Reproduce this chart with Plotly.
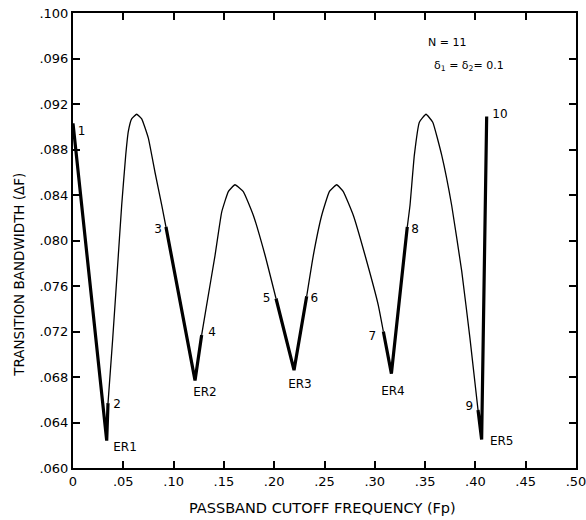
import plotly.graph_objects as go

# Labeled points 1..10 (ends of the thick segments)
pt_labels = ["1", "2", "3", "4", "5", "6", "7", "8", "9", "10"]
pt_fp = [0.0000, 0.0348, 0.0924, 0.1279, 0.2018, 0.2323, 0.3085, 0.3323, 0.4026, 0.4112]
pt_df = [0.0903, 0.0657, 0.0812, 0.0717, 0.0749, 0.0751, 0.0720, 0.0812, 0.0651, 0.0909]

# Extremal-ripple minima ER1..ER5
er_labels = ["ER1", "ER2", "ER3", "ER4", "ER5"]
er_fp = [0.0335, 0.1213, 0.2197, 0.3165, 0.4062]
er_df = [0.0624, 0.0677, 0.0686, 0.0683, 0.0625]

# Thin arcs between labeled points (interior points)
arc1_fp = [0.0395, 0.0440, 0.0484, 0.0524, 0.0550, 0.0583, 0.0633, 0.0683, 0.0749, 0.0815, 0.0882]
arc1_df = [0.0714, 0.0773, 0.0831, 0.0875, 0.0896, 0.0907, 0.0911, 0.0907, 0.0890, 0.0860, 0.0831]
arc2_fp = [0.1328, 0.1412, 0.1478, 0.1544, 0.1610, 0.1693, 0.1793, 0.1909]
arc2_df = [0.0743, 0.0787, 0.0825, 0.0843, 0.0849, 0.0843, 0.0822, 0.0787]
arc3_fp = [0.2389, 0.2472, 0.2548, 0.2621, 0.2687, 0.2787, 0.2903, 0.3035]
arc3_df = [0.0787, 0.0822, 0.0843, 0.0849, 0.0843, 0.0822, 0.0787, 0.0743]
arc4_fp = [0.3350, 0.3393, 0.3443, 0.3509, 0.3576, 0.3665, 0.3764, 0.3864, 0.3946]
arc4_df = [0.0831, 0.0875, 0.0904, 0.0911, 0.0904, 0.0875, 0.0831, 0.0773, 0.0714]
arcs = [(arc1_fp, arc1_df), (arc2_fp, arc2_df), (arc3_fp, arc3_df), (arc4_fp, arc4_df)]

x_ticks = [0, 0.05, 0.10, 0.15, 0.20, 0.25, 0.30, 0.35, 0.40, 0.45, 0.50]
x_ticktext = ["0", ".05", ".10", ".15", ".20", ".25", ".30", ".35", ".40", ".45", ".50"]
y_ticks = [0.060, 0.064, 0.068, 0.072, 0.076, 0.080, 0.084, 0.088, 0.092, 0.096, 0.100]
y_ticktext = [".060", ".064", ".068", ".072", ".076", ".080", ".084", ".088", ".092", ".096", ".100"]

# label positions (data coords)
pt_lab_fp = [0.0085, 0.0437, 0.0845, 0.1382, 0.1925, 0.2399, 0.2975, 0.3400, 0.3939, 0.4244]
pt_lab_df = [0.0895, 0.0655, 0.0809, 0.0719, 0.0749, 0.0749, 0.0715, 0.0809, 0.0654, 0.0910]
er_lab_fp = [0.0517, 0.1312, 0.2256, 0.3180, 0.4261]
er_lab_df = [0.0618, 0.0666, 0.0673, 0.0667, 0.0623]

FONT = "DejaVu Sans"
fig = go.Figure()

# thin arcs: from point 2k to point 2k+1
for k, (afp, adf) in enumerate(arcs):
    i0 = 2 * k + 1
    xs = [pt_fp[i0]] + afp + [pt_fp[i0 + 1]]
    ys = [pt_df[i0]] + adf + [pt_df[i0 + 1]]
    fig.add_trace(go.Scatter(x=xs, y=ys, mode="lines",
                             line=dict(color="black", width=1.3, shape="spline", smoothing=0.35),
                             hoverinfo="skip", showlegend=False))

# thick segments: point 2k-1 -> ER k -> point 2k
for k in range(5):
    xs = [pt_fp[2 * k], er_fp[k], pt_fp[2 * k + 1]]
    ys = [pt_df[2 * k], er_df[k], pt_df[2 * k + 1]]
    fig.add_trace(go.Scatter(x=xs, y=ys, mode="lines",
                             line=dict(color="black", width=3.2),
                             hoverinfo="skip", showlegend=False))

fig.add_trace(go.Scatter(x=pt_lab_fp, y=pt_lab_df, mode="text", text=pt_labels,
                         textfont=dict(family=FONT, size=12, color="black"),
                         cliponaxis=False, hoverinfo="skip", showlegend=False))
fig.add_trace(go.Scatter(x=er_lab_fp, y=er_lab_df, mode="text", text=er_labels,
                         textfont=dict(family=FONT, size=12, color="black"),
                         cliponaxis=False, hoverinfo="skip", showlegend=False))

fig.add_annotation(x=0.3718, y=0.0974, text="N = 11", showarrow=False,
                   font=dict(family=FONT, size=11, color="black"))
fig.add_annotation(x=0.3936, y=0.0953, text="δ<sub>1</sub> = δ<sub>2</sub>= 0.1", showarrow=False,
                   font=dict(family=FONT, size=11, color="black"))

# axis titles
fig.add_annotation(xref="paper", yref="paper", x=0.497, y=-0.088, yanchor="middle",
                   text="PASSBAND CUTOFF FREQUENCY (Fp)", showarrow=False,
                   font=dict(family=FONT, size=14.5, color="black"))
fig.add_annotation(xref="paper", yref="paper", x=-0.109, y=0.425, xanchor="center", yanchor="middle",
                   text="TRANSITION BANDWIDTH (ΔF)", textangle=-90, showarrow=False,
                   font=dict(family=FONT, size=13.5, color="black"))

fig.update_layout(
    width=586, height=520,
    margin=dict(l=73, r=10, t=13, b=52),
    paper_bgcolor="white", plot_bgcolor="white",
    font=dict(family=FONT, size=12, color="black"),
    showlegend=False,
)
fig.update_xaxes(range=[0, 0.5], tickvals=x_ticks, ticktext=x_ticktext, automargin=False,
                 ticklabeloverflow="allow",
                 showgrid=False, zeroline=False, showline=True, linecolor="black", linewidth=2,
                 mirror="ticks", ticks="inside", ticklen=7, tickwidth=1.5, tickcolor="black",
                 tickfont=dict(family=FONT, size=13))
fig.update_yaxes(range=[0.060, 0.100], tickvals=y_ticks, ticktext=y_ticktext, automargin=False,
                 ticklabeloverflow="allow",
                 showgrid=False, zeroline=False, showline=True, linecolor="black", linewidth=2,
                 mirror="ticks", ticks="inside", ticklen=7, tickwidth=1.5, tickcolor="black",
                 tickfont=dict(family=FONT, size=13))

fig.write_html("out.html")
